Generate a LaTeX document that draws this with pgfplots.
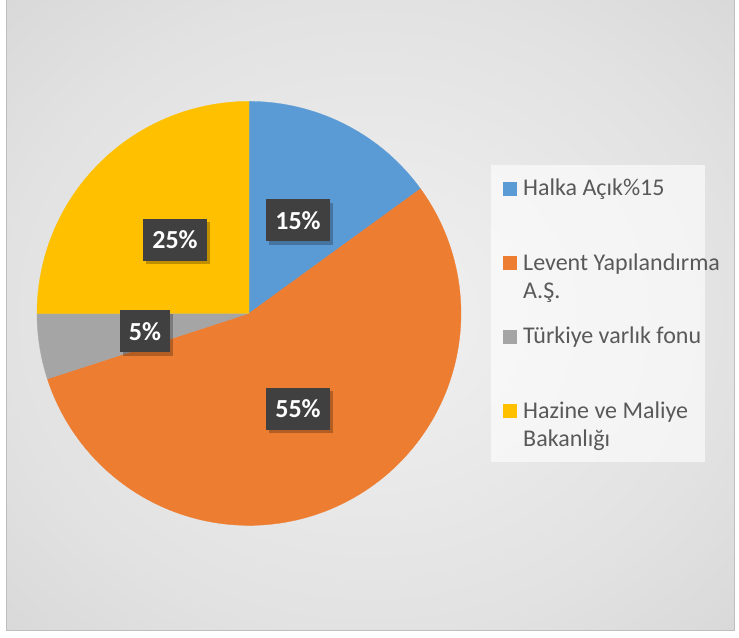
\documentclass[border=0pt]{standalone}
\usepackage{pgfplots}
\pgfplotsset{compat=1.18}
\usepackage{fontspec}
\setmainfont{Carlito}
\usetikzlibrary{shadows}
\definecolor{cblue}{HTML}{5B9BD5}
\definecolor{corange}{HTML}{ED7D31}
\definecolor{cgray}{HTML}{A5A5A5}
\definecolor{cyellow}{HTML}{FFC000}
\definecolor{lbl}{HTML}{404040}
\definecolor{txt}{HTML}{595959}
\definecolor{bordc}{HTML}{BEBEBE}
\definecolor{bgA}{HTML}{F1F1F1}
\definecolor{bgB}{HTML}{E2E2E2}
\definecolor{bgC}{HTML}{CCCCCC}
\definecolor{bgD}{HTML}{C3C3C3}
\pgfdeclareradialshading{bgshade}{\pgfpoint{0bp}{0bp}}{color(0bp)=(bgA); color(25bp)=(bgB); color(50bp)=(bgC); color(71bp)=(bgD)}
% slice values (percent)
\def\vA{15}\def\vB{55}\def\vC{5}\def\vD{25}
\pgfmathsetmacro{\aA}{90}
\pgfmathsetmacro{\aB}{\aA-3.6*\vA}
\pgfmathsetmacro{\aC}{\aB-3.6*\vB}
\pgfmathsetmacro{\aD}{\aC-3.6*\vC}
\pgfmathsetmacro{\aE}{\aD-3.6*\vD}
\tikzset{lblbox/.style={fill=lbl, text=white, font=\fontsize{26bp}{30bp}\selectfont\bfseries,
  minimum height=42bp, inner sep=0pt,
  drop shadow={shadow xshift=3bp, shadow yshift=-3.5bp, opacity=0.25, fill=black}},
  legtxt/.style={anchor=base west, text=txt, font=\fontsize{24bp}{28bp}\selectfont, inner sep=0pt}}
\begin{document}
\begin{tikzpicture}
\begin{axis}[width=739bp,height=637bp,scale only axis,
  xmin=0,xmax=739,ymin=0,ymax=637,y dir=reverse,hide axis,clip=false]
\fill[white] (0,0) rectangle (739,637);
\shade[shading=bgshade] (6,0) rectangle (734,630);
\draw[bordc, line width=0.8bp] (6,0) -- (6,630) -- (734,630) -- (734,0);
% pie slices
\addplot[fill=cblue, draw=cblue, line width=0.3bp, domain=\aB:\aA, samples=40]
  ({249+212*cos(x)},{313-212*sin(x)}) -- (249,313) -- cycle;
\addplot[fill=corange, draw=corange, line width=0.3bp, domain=\aC:\aB, samples=120]
  ({249+212*cos(x)},{313-212*sin(x)}) -- (249,313) -- cycle;
\addplot[fill=cgray, draw=cgray, line width=0.3bp, domain=\aD:\aC, samples=20]
  ({249+212*cos(x)},{313-212*sin(x)}) -- (249,313) -- cycle;
\addplot[fill=cyellow, draw=cyellow, line width=0.3bp, domain=\aE:\aD, samples=60]
  ({249+212*cos(x)},{313-212*sin(x)}) -- (249,313) -- cycle;
% data labels
\node[lblbox, minimum width=64bp] at (298,220) {15\%};
\node[lblbox, minimum width=64bp] at (175,239.5) {25\%};
\node[lblbox, minimum width=50bp] at (145,331) {5\%};
\node[lblbox, minimum width=64bp] at (298,408.5) {55\%};
% legend
\fill[white, opacity=0.6] (491,165) rectangle (705,462);
\fill[cblue] (503,182) rectangle (517,196);
\fill[corange] (503,256) rectangle (517,270);
\fill[cgray] (503,330) rectangle (517,344);
\fill[cyellow] (503,404) rectangle (517,418);
\node[legtxt] at (523,195) {Halka Açık\%15};
\node[legtxt] at (523,270) {Levent Yapılandırma};
\node[legtxt] at (523,298) {A.Ş.};
\node[legtxt] at (523,343) {Türkiye varlık fonu};
\node[legtxt] at (523,418) {Hazine ve Maliye};
\node[legtxt] at (523,446) {Bakanlığı};
\end{axis}
\end{tikzpicture}
\end{document}
